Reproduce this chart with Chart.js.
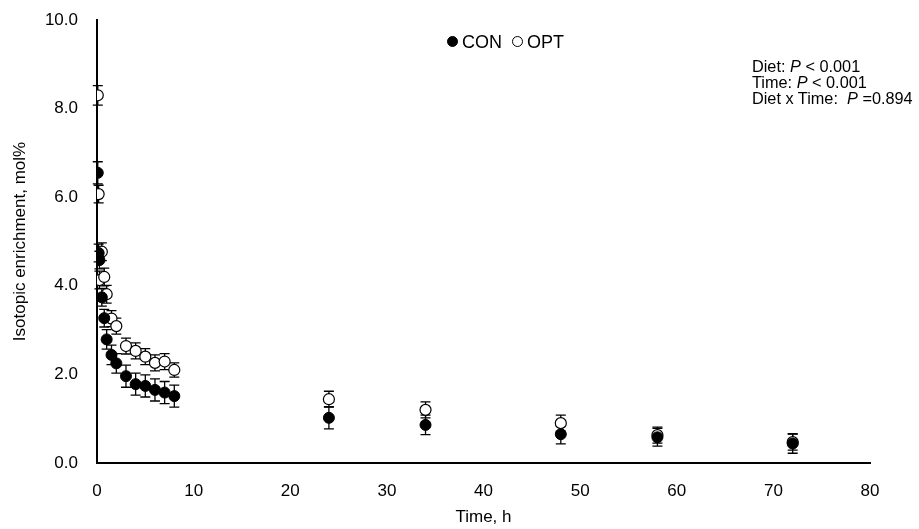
<!DOCTYPE html>
<html>
<head>
<meta charset="utf-8">
<script src="https://cdn.jsdelivr.net/npm/chart.js@4.4.1/dist/chart.umd.min.js"></script>
<style>
  html, body { margin: 0; padding: 0; background: #fff; }
  #wrap { position: relative; width: 919px; height: 529px; font-family: "Liberation Sans", Arial, sans-serif; color: #000; }
  #legend { position: absolute; left: 447px; top: 32px; font-size: 18px; white-space: nowrap; }
  #legend .dot { display: inline-block; width: 9px; height: 9px; border-radius: 50%; border: 1.3px solid #000; margin-right: 4px; vertical-align: 1px; }
  #stats { position: absolute; left: 752px; top: 58px; font-size: 16.3px; line-height: 16px; white-space: nowrap; }
</style>
</head>
<body>
<div id="wrap">
  <canvas id="enrichChart" width="919" height="529"></canvas>
  <div id="legend"><span class="dot" style="background:#000"></span>CON&nbsp;&nbsp;<span class="dot" style="background:#fff"></span>OPT</div>
  <div id="stats">Diet: <i>P</i> &lt; 0.001<br>Time: <i>P</i> &lt; 0.001<br>Diet x Time:&nbsp; <i>P</i> =0.894</div>
</div>
<script>
// 采样时间 (h)
const timePoints = [0.08, 0.17, 0.25, 0.5, 0.75, 1, 1.5, 2, 3, 4, 5, 6, 7, 8, 24, 34, 48, 58, 72];

// CON 组
const conValues = [6.55, 4.74, 4.58, 3.74, 3.27, 2.79, 2.44, 2.25, 1.96, 1.78, 1.74, 1.65, 1.59, 1.51, 1.02, 0.86, 0.65, 0.58, 0.44];
const conErrors = [0.25, 0.2, 0.2, 0.2, 0.2, 0.22, 0.22, 0.22, 0.25, 0.25, 0.25, 0.25, 0.25, 0.25, 0.25, 0.22, 0.22, 0.2, 0.22];

// OPT 组
const optValues = [8.3, 6.07, 4.13, 4.77, 4.2, 3.81, 3.26, 3.09, 2.64, 2.53, 2.4, 2.26, 2.29, 2.1, 1.44, 1.2, 0.9, 0.63, 0.47];
const optErrors = [0.22, 0.2, 0.2, 0.2, 0.2, 0.2, 0.18, 0.18, 0.18, 0.18, 0.18, 0.18, 0.18, 0.16, 0.18, 0.18, 0.18, 0.18, 0.18];

const yTicks = [0, 2, 4, 6, 8, 10];
const xTicks = [0, 10, 20, 30, 40, 50, 60, 70, 80];

function toPoints(values, errors) {
    return timePoints.map((t, i) => ({ x: t, y: values[i], err: errors[i] }));
}

// 误差线插件
const errorBars = {
    id: 'errorBars',
    beforeDatasetsDraw(chart) {
        const ctx = chart.ctx;
        const xs = chart.scales.x;
        const ys = chart.scales.y;
        ctx.save();
        ctx.strokeStyle = '#000';
        ctx.lineWidth = 1.3;
        chart.data.datasets.forEach(ds => {
            ds.data.forEach(p => {
                const px = xs.getPixelForValue(p.x);
                const top = ys.getPixelForValue(p.y + p.err);
                const bot = ys.getPixelForValue(p.y - p.err);
                ctx.beginPath();
                ctx.moveTo(px, top); ctx.lineTo(px, bot);
                ctx.moveTo(px - 5, top); ctx.lineTo(px + 5, top);
                ctx.moveTo(px - 5, bot); ctx.lineTo(px + 5, bot);
                ctx.stroke();
            });
        });
        ctx.restore();
    }
};

const tickFont = { family: '"Liberation Sans", Arial, sans-serif', size: 17 };

new Chart(document.getElementById('enrichChart'), {
    type: 'scatter',
    data: {
        datasets: [
            {
                label: 'CON',
                data: toPoints(conValues, conErrors),
                pointRadius: 5.5,
                pointBackgroundColor: '#000',
                pointBorderColor: '#000',
                pointBorderWidth: 1
            },
            {
                label: 'OPT',
                data: toPoints(optValues, optErrors),
                pointRadius: 5.5,
                pointBackgroundColor: '#fff',
                pointBorderColor: '#000',
                pointBorderWidth: 1.2
            }
        ]
    },
    options: {
        responsive: false,
        animation: false,
        layout: { padding: { left: 0, right: 49, top: 20, bottom: 0 } },
        plugins: {
            legend: { display: false },
            tooltip: { enabled: false }
        },
        scales: {
            x: {
                type: 'linear',
                min: 0,
                max: 80,
                afterBuildTicks: s => { s.ticks = xTicks.map(v => ({ value: v })); },
                afterFit: s => { s.height = 66; },
                grid: { display: false, drawTicks: false },
                border: { display: true, color: '#000', width: 2 },
                ticks: { color: '#000', font: tickFont, padding: 18, maxRotation: 0 },
                title: { display: true, text: 'Time, h', color: '#000', font: tickFont, padding: { top: 4, bottom: 1 } }
            },
            y: {
                min: 0,
                max: 10,
                afterBuildTicks: s => { s.ticks = yTicks.map(v => ({ value: v })); },
                afterFit: s => { s.width = 97; s.paddingTop = 0; s.paddingBottom = 0; },
                grid: { display: false, drawTicks: false },
                border: { display: true, color: '#000', width: 2 },
                ticks: { color: '#000', font: tickFont, padding: 19, callback: v => v.toFixed(1) },
                title: { display: true, text: 'Isotopic enrichment, mol%', color: '#000', font: tickFont, padding: { top: 10, bottom: 4 } }
            }
        }
    },
    plugins: [errorBars]
});
</script>
</body>
</html>
